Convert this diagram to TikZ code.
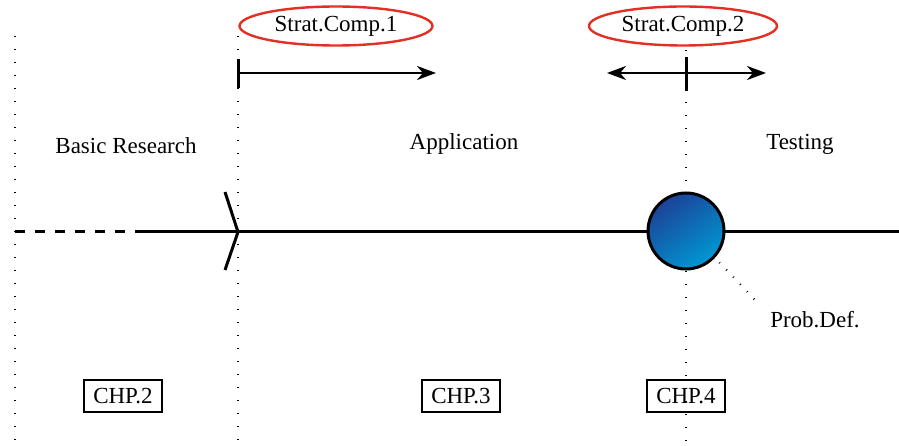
\documentclass[tikz,border=0pt]{standalone}
\usepackage{fontspec}
\setmainfont{Liberation Serif}
\usetikzlibrary{arrows.meta,shapes.geometric}
\definecolor{ellred}{RGB}{226,48,36}
\definecolor{dkblue}{RGB}{28,66,150}
\definecolor{ltblue}{RGB}{0,152,212}
\tikzset{
  guide/.style={line width=1.6pt, dash pattern=on 0.6pt off 12.4pt},
  txt/.style={font=\fontsize{23}{27}\selectfont},
  lbl/.style={txt, inner sep=0pt},
  strat/.style={ellipse, draw=ellred, line width=2.4pt, txt, minimum width=#1, minimum height=39pt, inner sep=0pt},
  chp/.style={draw, line width=2.4pt, txt, minimum width=78pt, minimum height=32pt, inner sep=0pt},
  mainline/.style={line width=3pt},
  >={Stealth[length=19pt,width=14pt,inset=6pt]},
}
\begin{document}
\begin{tikzpicture}[x=1pt,y=-1pt]
\useasboundingbox (0,0) rectangle (899,446);
% guides
\coordinate (g1t) at (15,36); \coordinate (g1b) at (15,446);
\coordinate (g2t) at (238,36); \coordinate (g2b) at (238,446);
\coordinate (g3t) at (686,50); \coordinate (g3b) at (686,446);
\draw[guide] (g1t) -- (g1b);
\draw[guide] (g2t) -- (g2b);
\draw[guide] (g3t) -- (g3b);
% ellipses
\node[strat=193pt] (s1) at (336,26) {Strat.Comp.1};
\node[strat=188pt] (s2) at (683,26) {Strat.Comp.2};
% arrows
\coordinate (a1s) at (238,73); \coordinate (a1e) at (436,73);
\coordinate (b1t) at (238,59); \coordinate (b1b) at (238,88);
\draw[line width=2.5pt, ->] (a1s) -- (a1e);
\draw[line width=3pt] (b1t) -- (b1b);
\coordinate (a2s) at (607,73); \coordinate (a2e) at (766,73);
\coordinate (b2t) at (686,57); \coordinate (b2b) at (686,91);
\draw[line width=2.5pt, <->] (a2s) -- (a2e);
\draw[line width=3pt] (b2t) -- (b2b);
% labels
\node[lbl] (br) at (126,146) {Basic Research};
\node[lbl] (ap) at (464,144) {Application};
\node[lbl] (te) at (800,144) {Testing};
% main line
\coordinate (m0) at (15,232); \coordinate (m1) at (137,232);
\coordinate (m2) at (238,232); \coordinate (m3) at (899,232);
\draw[mainline, dash pattern=on 10pt off 10pt] (m0) -- (m1);
\draw[mainline] (m1) -- (m3);
\coordinate (c1) at (225,192); \coordinate (c2) at (225,270);
\draw[mainline, line join=miter] (c1) -- (m2) -- (c2);
% circle
\node[circle, draw, line width=3pt, minimum size=76pt, inner sep=0pt, top color=dkblue, bottom color=ltblue, shading angle=35] (pd) at (686,231) {};
\node[lbl] (pdl) at (815,320) {Prob.Def.};
\coordinate (pde) at (760,305);
\draw[line width=2.2pt, dash pattern=on 0.8pt off 9.2pt] (pd.-42) ++(4,5) -- (pde);
% boxes
\node[chp] (ch2) at (123,396) {CHP.2};
\node[chp] (ch3) at (461,396) {CHP.3};
\node[chp] (ch4) at (686,396) {CHP.4};
\end{tikzpicture}
\end{document}
